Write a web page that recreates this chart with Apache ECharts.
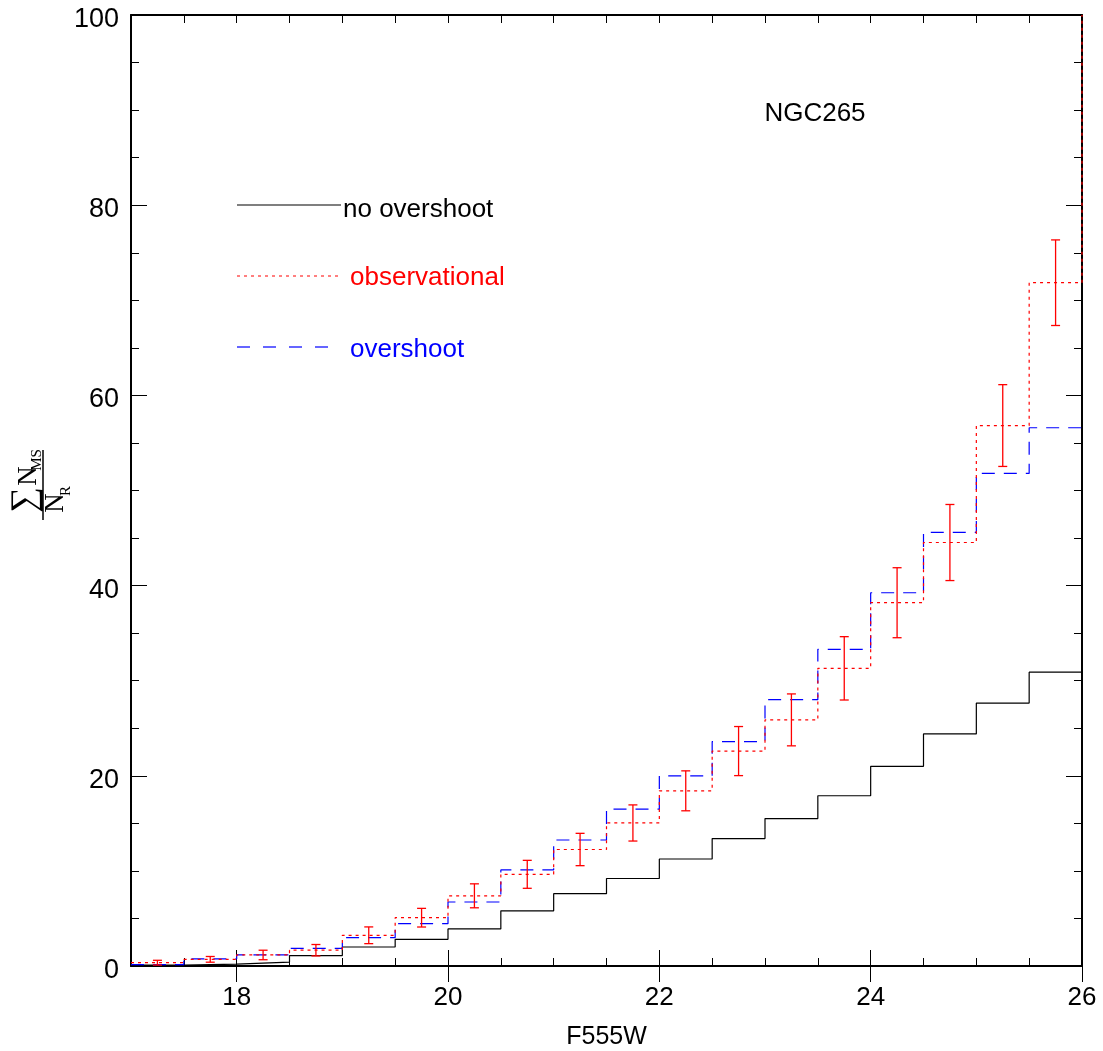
<!DOCTYPE html>
<html>
<head>
<meta charset="utf-8">
<script src="https://cdn.jsdelivr.net/npm/echarts@6/dist/echarts.min.js"></script>
<style>
  html, body { margin: 0; padding: 0; background: #ffffff; }
  #chart { width: 1103px; height: 1051px; }
</style>
</head>
<body>
<div id="chart"></div>
<script>
// Left edges of the 0.5 mag F555W bins
const binEdges = [17, 17.5, 18, 18.5, 19, 19.5, 20, 20.5, 21, 21.5, 22, 22.5, 23, 23.5, 24, 24.5, 25, 25.5];
const binWidth = 0.5;
const magMax = 26;

// Cumulative main-sequence counts normalised to N_R, per bin
const noOvershoot   = [0.1, 0.2, 0.4, 1.1, 2.0, 2.8, 3.9, 5.8, 7.6, 9.2, 11.25, 13.4, 15.5, 17.9, 21.0, 24.4, 27.65, 30.9];
const overshoot     = [0.15, 0.74, 1.16, 1.86, 2.98, 4.45, 6.73, 10.1, 13.25, 16.5, 20.0, 23.6, 28.0, 33.3, 39.25, 45.6, 51.8, 56.6];
const observational = [0.35, 0.7, 1.16, 1.66, 3.23, 5.08, 7.38, 9.64, 12.25, 15.04, 18.42, 22.6, 25.88, 31.3, 38.2, 44.53, 56.83, 71.85];
const observationalError = [0.25, 0.3, 0.5, 0.6, 0.88, 0.98, 1.26, 1.47, 1.7, 1.9, 2.1, 2.58, 2.73, 3.33, 3.68, 4.0, 4.3, 4.5];
const observationalTotal = 100;

// Axis ticks
const xLabelValues = [18, 20, 22, 24, 26];
const yLabelInterval = 20;
const yMinorInterval = 5;
const xMinorInterval = 0.5;

const FONT = 'Liberation Sans, Arial, Helvetica, sans-serif';
const SERIF = 'Liberation Serif, DejaVu Serif, Times New Roman, serif';

function stepData(values, endValue) {
  const d = binEdges.map((x, i) => [x, values[i]]);
  d.push([magMax, endValue === undefined ? values[values.length - 1] : endValue]);
  return d;
}

const errorData = binEdges.map((x, i) => [x + binWidth / 2, observational[i], observationalError[i]]);

const chart = echarts.init(document.getElementById('chart'), null, { renderer: 'canvas' });

function xAxisDef(position, opts) {
  return Object.assign({
    type: 'value', position: position, min: 17, max: magMax, interval: xMinorInterval,
    axisLine: { show: true, onZero: false, lineStyle: { color: '#000', width: 2 } },
    axisTick: { show: true, inside: true, length: 8, lineStyle: { color: '#000', width: 1 } },
    axisLabel: { show: false },
    splitLine: { show: false }
  }, opts);
}
function yAxisDef(position, opts) {
  return Object.assign({
    type: 'value', position: position, min: 0, max: 100, interval: yMinorInterval,
    axisLine: { show: true, onZero: false, lineStyle: { color: '#000', width: 2 } },
    axisTick: { show: true, inside: true, length: 8, lineStyle: { color: '#000', width: 1 } },
    axisLabel: { show: false },
    splitLine: { show: false }
  }, opts);
}

const option = {
  animation: false,
  backgroundColor: '#ffffff',
  grid: { left: 131, right: 21, top: 15, bottom: 85, containLabel: false, outerBoundsMode: 'none' },
  xAxis: [
    xAxisDef('bottom', {
      name: 'F555W', nameLocation: 'middle', nameGap: 59,
      nameTextStyle: { fontFamily: FONT, fontSize: 25, color: '#000' },
      axisLabel: { show: true, customValues: xLabelValues, margin: 19, fontFamily: FONT, fontSize: 26, color: '#000' }
    }),
    xAxisDef('bottom', { axisLine: { show: false }, axisTick: { show: true, inside: true, length: 16, customValues: xLabelValues, lineStyle: { color: '#000', width: 1 } } }),
    xAxisDef('top', {}),
    xAxisDef('top', { axisLine: { show: false }, axisTick: { show: true, inside: true, length: 16, customValues: xLabelValues, lineStyle: { color: '#000', width: 1 } } })
  ],
  yAxis: [
    yAxisDef('left', {
      interval: yLabelInterval,
      axisTick: { show: true, inside: true, length: 16, lineStyle: { color: '#000', width: 1 } },
      axisLabel: {
        show: true, margin: 12,
        formatter: function (v) { return '{t|' + v + '}'; },
        rich: { t: { fontFamily: FONT, fontSize: 27, color: '#000', padding: [9, 0, 0, 0] } }
      }
    }),
    yAxisDef('left', { axisLine: { show: false } }),
    yAxisDef('right', { interval: yLabelInterval, axisTick: { show: true, inside: true, length: 16, lineStyle: { color: '#000', width: 1 } } }),
    yAxisDef('right', { axisLine: { show: false } })
  ],
  series: [
    {
      name: 'no overshoot', type: 'line', step: 'end', xAxisIndex: 0, yAxisIndex: 0,
      data: stepData(noOvershoot), symbol: 'none', clip: false,
      lineStyle: { color: '#000000', width: 1.2, type: 'solid' }, z: 3
    },
    {
      name: 'overshoot', type: 'line', step: 'end', xAxisIndex: 0, yAxisIndex: 0,
      data: stepData(overshoot), symbol: 'none', clip: false,
      lineStyle: { color: '#0000ff', width: 1.2, type: [13, 9] }, z: 3
    },
    {
      name: 'observational', type: 'line', step: 'end', xAxisIndex: 0, yAxisIndex: 0,
      data: stepData(observational, observationalTotal), symbol: 'none', clip: false,
      lineStyle: { color: '#ff0000', width: 1.2, type: [3, 4] }, z: 4
    },
    {
      name: 'observational error', type: 'custom', xAxisIndex: 0, yAxisIndex: 0,
      data: errorData, encode: { x: 0, y: 1 }, z: 5,
      renderItem: function (params, api) {
        const x = api.value(0), y = api.value(1), e = api.value(2);
        const top = api.coord([x, y + e]);
        const bot = api.coord([x, y - e]);
        const hw = 4.5;
        const st = { stroke: '#ff0000', lineWidth: 1.3 };
        return {
          type: 'group',
          children: [
            { type: 'line', shape: { x1: top[0], y1: top[1], x2: bot[0], y2: bot[1] }, style: st },
            { type: 'line', shape: { x1: top[0] - hw, y1: top[1], x2: top[0] + hw, y2: top[1] }, style: st },
            { type: 'line', shape: { x1: bot[0] - hw, y1: bot[1], x2: bot[0] + hw, y2: bot[1] }, style: st }
          ]
        };
      }
    }
  ],
  graphic: [
    // cluster name
    { type: 'text', x: 815, y: 114, style: { text: 'NGC265', fill: '#000', font: '26px ' + FONT, align: 'center', verticalAlign: 'middle' } },
    // key
    { type: 'line', shape: { x1: 237, y1: 205, x2: 341, y2: 205 }, style: { stroke: '#000', lineWidth: 1.2 } },
    { type: 'text', x: 343, y: 210, style: { text: 'no overshoot', fill: '#000', font: '26px ' + FONT, align: 'left', verticalAlign: 'middle' } },
    { type: 'line', shape: { x1: 237, y1: 276, x2: 341, y2: 276 }, style: { stroke: '#ff0000', lineWidth: 1.2, lineDash: [3, 4] } },
    { type: 'text', x: 350, y: 278, style: { text: 'observational', fill: '#ff0000', font: '26px ' + FONT, align: 'left', verticalAlign: 'middle' } },
    { type: 'line', shape: { x1: 237, y1: 347, x2: 331, y2: 347 }, style: { stroke: '#0000ff', lineWidth: 1.2, lineDash: [13, 13] } },
    { type: 'text', x: 350, y: 350, style: { text: 'overshoot', fill: '#0000ff', font: '26px ' + FONT, align: 'left', verticalAlign: 'middle' } },
    // y-axis title: sum of N_MS over N_R, reading bottom to top
    {
      type: 'group', x: 43, y: 485, rotation: Math.PI / 2,
      children: [
        { type: 'line', shape: { x1: -35, y1: 0, x2: 35, y2: 0 }, style: { stroke: '#000', lineWidth: 1.5 } },
        { type: 'text', x: -15, y: -17, style: { text: '\u2211', fill: '#000', font: '36px ' + SERIF, align: 'center', verticalAlign: 'middle' } },
        { type: 'text', x: 9, y: -14, style: { text: 'N', fill: '#000', font: '27px ' + SERIF, align: 'center', verticalAlign: 'middle' } },
        { type: 'text', x: 25, y: -6, style: { text: 'MS', fill: '#000', font: '15px ' + SERIF, align: 'center', verticalAlign: 'middle' } },
        { type: 'text', x: -18, y: 13, style: { text: 'N', fill: '#000', font: '27px ' + SERIF, align: 'center', verticalAlign: 'middle' } },
        { type: 'text', x: -6, y: 23, style: { text: 'R', fill: '#000', font: '15px ' + SERIF, align: 'center', verticalAlign: 'middle' } }
      ]
    }
  ]
};

chart.setOption(option);
</script>
</body>
</html>
